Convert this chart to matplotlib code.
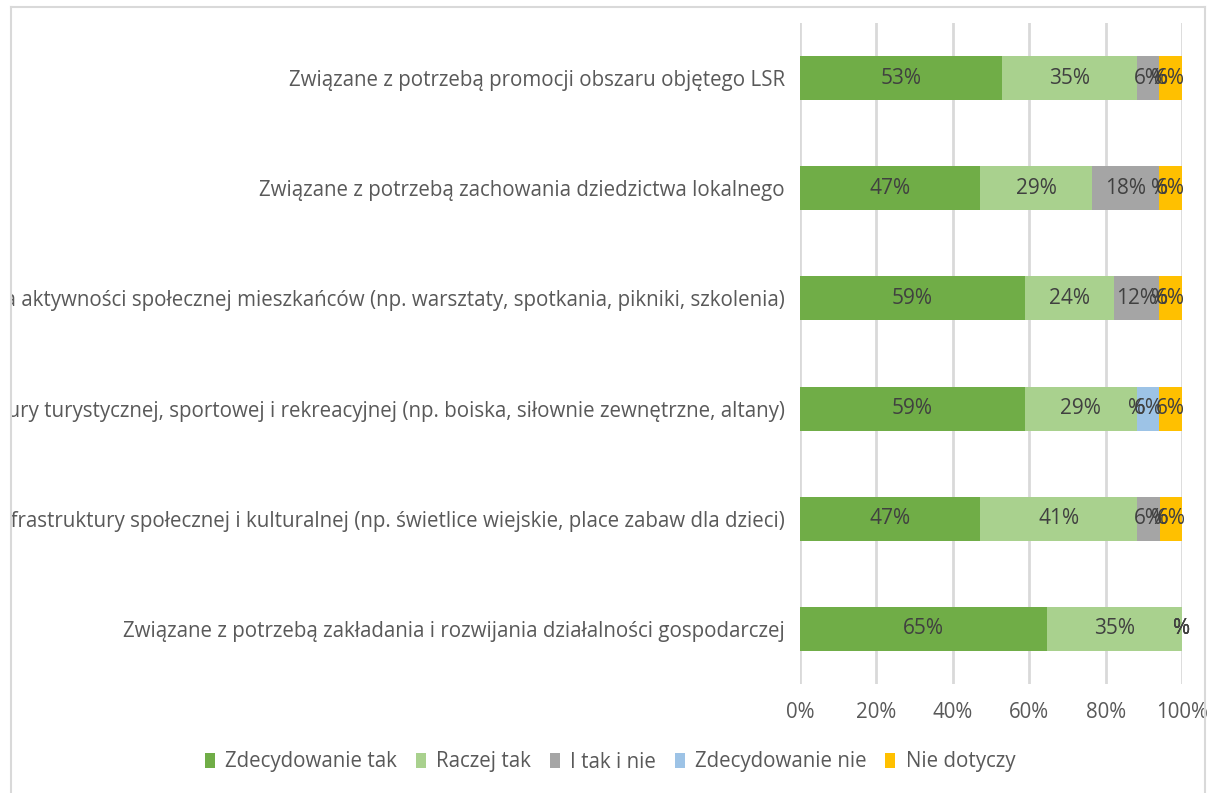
import matplotlib.pyplot as plt
import numpy as np
from matplotlib.lines import Line2D
from matplotlib.patches import Patch
from matplotlib.transforms import Bbox

plt.rcParams['font.family'] = ['Open Sans', 'DejaVu Sans']

# categories, top to bottom as shown
categories = [
    "Związane z potrzebą promocji obszaru objętego LSR",
    "Związane z potrzebą zachowania dziedzictwa lokalnego",
    "Związane z potrzebą zwiększenia aktywności społecznej mieszkańców (np. warsztaty, spotkania, pikniki, szkolenia)",
    "Związane z potrzebą rozwoju infrastruktury turystycznej, sportowej i rekreacyjnej (np. boiska, siłownie zewnętrzne, altany)",
    "Związane z potrzebą rozwoju infrastruktury społecznej i kulturalnej (np. świetlice wiejskie, place zabaw dla dzieci)",
    "Związane z potrzebą zakładania i rozwijania działalności gospodarczej",
]
series = ["Zdecydowanie tak", "Raczej tak", "I tak i nie", "Zdecydowanie nie", "Nie dotyczy"]
# shares in percent (labels show them rounded)
zdecydowanie_tak = [52.9, 47.1, 58.8, 58.8, 47.1, 64.7]
raczej_tak = [35.3, 29.4, 23.5, 29.4, 41.2, 35.3]
i_tak_i_nie = [5.9, 17.6, 11.8, 0, 5.9, 0]
zdecydowanie_nie = [0, 0, 0, 5.9, 0, 0]
nie_dotyczy = [5.9, 5.9, 5.9, 5.9, 5.9, 0]
colors = ["#70AD47", "#A9D18E", "#A5A5A5", "#9DC3E6", "#FFC000"]

values = [zdecydowanie_tak, raczej_tak, i_tak_i_nie, zdecydowanie_nie, nie_dotyczy]
text_col = "#595959"
fs = 14.8

fig = plt.figure(figsize=(12.16, 7.93), dpi=100)
ax = fig.add_axes([800 / 1216, 1 - 684 / 793, 382 / 1216, 661 / 793])

y = np.arange(len(categories))[::-1]
left = np.zeros(len(categories))
for name, vals, col in zip(series, values, colors):
    vals = np.array(vals, dtype=float)
    ax.barh(y, vals, left=left, height=0.4, color=col, label=name, zorder=2)
    for yi, l, v in zip(y, left, vals):
        txt = f"{round(v)}%" if v > 0 else "%"
        ax.text(l + v / 2, yi, txt, ha="center", va="center",
                fontsize=15, color="#404040", zorder=3)
    left += vals

ax.set_xlim(0, 100)
ax.set_ylim(-0.5, len(categories) - 0.5)
ax.set_xticks(np.arange(0, 101, 20))
ax.set_xticklabels([f"{t}%" for t in range(0, 101, 20)])
ax.set_yticks(y)
ax.set_yticklabels(categories)
ax.tick_params(axis="both", length=0, labelsize=fs, colors=text_col)
ax.tick_params(axis="x", pad=13)
ax.tick_params(axis="y", pad=11)
ax.grid(axis="x", color="#D9D9D9", linewidth=2, zorder=0)
for s in ax.spines.values():
    s.set_visible(False)

# long labels are cut at the chart frame, as in the original
clip = Bbox([[12, 0], [1216, 793]])
for lab in ax.get_yticklabels():
    lab.set_clip_on(True)
    lab.set_clip_box(clip)

handles = [Patch(facecolor=c, label=n) for n, c in zip(series, colors)]
leg = fig.legend(handles=handles, loc="center", bbox_to_anchor=(610 / 1216, 1 - 762 / 793),
                 ncol=5, frameon=False, fontsize=fs, handlelength=0.5,
                 handleheight=0.75, handletextpad=0.5, columnspacing=0.9)
for t in leg.get_texts():
    t.set_color(text_col)

# outer chart frame
fc = "#D9D9D9"
fig.add_artist(Line2D([11 / 1216, 11 / 1216], [0, 1 - 7 / 793], color=fc, lw=1.5))
fig.add_artist(Line2D([11 / 1216, 1205 / 1216], [1 - 7 / 793, 1 - 7 / 793], color=fc, lw=1.5))
fig.add_artist(Line2D([1205 / 1216, 1205 / 1216], [0, 1 - 7 / 793], color=fc, lw=1.5))

fig.savefig("out.png", dpi=100)
